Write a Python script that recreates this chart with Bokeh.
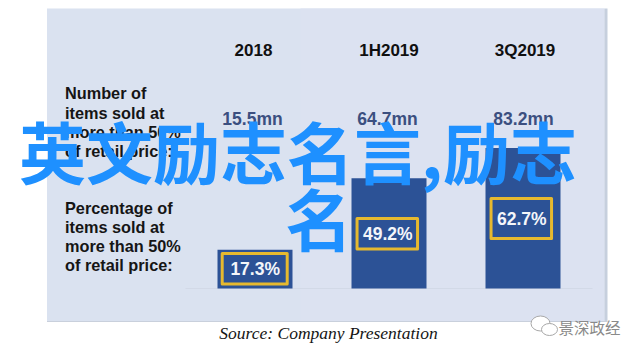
from bokeh.plotting import figure
from bokeh.embed import file_html
from bokeh.resources import INLINE
from bokeh.core.properties import value

periods = ["2018", "1H2019", "3Q2019"]
items_sold = ["15.5mn", "64.7mn", "83.2mn"]
pct_values = [17.3, 49.2, 62.7]
pct_labels = ["17.3%", "49.2%", "62.7%"]
label_top = ["Number of", "items sold at", "more than 50%", "of retail price:"]
label_bottom = ["Percentage of", "items sold at", "more than 50%", "of retail price:"]
title_lines = ["英文励志名言,励志", "名"]
source = "Source: Company Presentation"
mark = "景深政经"

W, H = 640, 354
PX_PER_PCT = 2.24
STEP = 134.0
X0, Y0 = 254.5, 288.0


def dx(px):
    return (px - X0) / STEP


def dy(py):
    return (Y0 - py) / PX_PER_PCT


p = figure(width=W, height=H, output_backend="svg", toolbar_location=None,
           x_range=(dx(0), dx(W)), y_range=(dy(H), dy(0)),
           min_border=0, outline_line_color=None, background_fill_color="white",
           border_fill_color="white")
p.axis.visible = False
p.grid.visible = False

FONT = value("Liberation Sans")

# panel
p.quad(left=dx(46.5), right=dx(604), bottom=dy(321), top=dy(8), fill_color="#dae2f0", line_color=None)
p.quad(left=dx(300), right=dx(604), bottom=dy(321), top=dy(8), fill_color="#dce2f1", line_color=None)
p.quad(left=dx(604), right=dx(607), bottom=dy(321), top=dy(8), fill_color="#c6cfdd", line_color=None)
p.quad(left=dx(46.5), right=dx(607), bottom=dy(321.5), top=dy(320.5), fill_color="#c9d0dc", line_color=None)
p.segment(x0=[dx(185)], x1=[dx(592)], y0=[0], y1=[0], line_color="#d2d9e7", line_width=1)

# bars
xs = list(range(len(pct_values)))
p.vbar(x=xs, top=pct_values, bottom=0, width=75 / STEP, fill_color="#2c5296", line_color=None)

# gold boxes
box_mid = [268.3, 233.3, 218.0]
box_h = [30.5, 30.5, 40.0]
box_w = [65.0, 60.5, 60.5]
box_x = [254.2, 386.8, 520.8]
p.rect(x=[dx(v) for v in box_x], y=[dy(v) for v in box_mid],
       width=[v / STEP for v in box_w], height=[v / PX_PER_PCT for v in box_h],
       fill_color=None, line_color="#e6b92f", line_width=3, line_join="round")
p.text(x=[dx(v + 0.5) for v in box_x], y=[dy(v + 0.5) for v in box_mid], text=pct_labels,
       text_font=FONT, text_font_style="bold", text_font_size="17.5px", text_color="#f4f6fa",
       text_align="center", text_baseline="middle")

# headers and counts
p.text(x=[dx(253), dx(388.5), dx(524.5)], y=[dy(49.5)] * 3, text=periods, text_font=FONT,
       text_font_style="bold", text_font_size="17px", text_color="#101010",
       text_align="center", text_baseline="middle")
p.text(x=[dx(252), dx(387), dx(523)], y=[dy(118.5)] * 3, text=items_sold, text_font=FONT,
       text_font_style="bold", text_font_size="17.5px", text_color="#3b4f80",
       text_align="center", text_baseline="middle")

# row labels
p.text(x=[dx(64.5)] * 4, y=[dy(v) for v in (92.5, 112, 131, 150)], text=label_top, text_font=FONT,
       text_font_style="bold", text_font_size="16.3px", text_color="#151515",
       text_align="left", text_baseline="middle")
p.text(x=[dx(64.5)] * 4, y=[dy(v) for v in (207.5, 226.5, 245.5, 264.5)], text=label_bottom, text_font=FONT,
       text_font_style="bold", text_font_size="16.3px", text_color="#151515",
       text_align="left", text_baseline="middle")

# source
p.text(x=[dx(328)], y=[dy(332.5)], text=[source], text_font=value("Liberation Serif"),
       text_font_style="italic", text_font_size="17.5px", text_color="#151515",
       text_align="center", text_baseline="middle")

# watermark
p.ellipse(x=[dx(540), dx(549)], y=[dy(323), dy(329)], width=[19 / STEP, 16 / STEP],
          height=[15 / PX_PER_PCT, 12 / PX_PER_PCT], fill_color="white", line_color="#a8a8a8", line_width=1)
p.text(x=[dx(558)], y=[dy(326)], text=[mark], text_font=value("Noto Sans CJK SC"),
       text_font_size="15.5px", text_color="#8a8a8a", text_align="left", text_baseline="middle")

# overlay title
p.text(x=[dx(297.5)], y=[dy(149)], text=[title_lines[0]], text_font=value("Noto Sans CJK SC"),
       text_font_style="bold", text_font_size="67px", text_color="#1e90ff",
       text_align="center", text_baseline="middle")
p.text(x=[dx(318.5)], y=[dy(216)], text=[title_lines[1]], text_font=value("Noto Sans CJK SC"),
       text_font_style="bold", text_font_size="67px", text_color="#1e90ff",
       text_align="center", text_baseline="middle")

open("out.html", "w").write(file_html(p, INLINE))
